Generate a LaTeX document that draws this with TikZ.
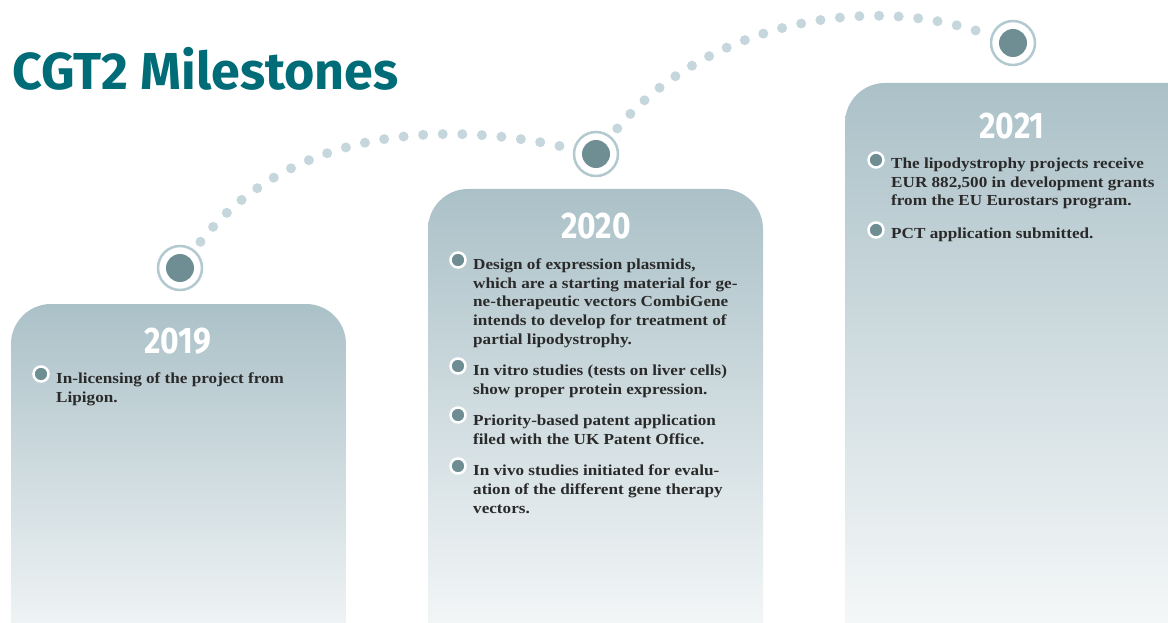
\documentclass[tikz,border=0pt]{standalone}
\usepackage{fontspec}
\setmainfont{Liberation Serif}
\newfontfamily\headfont{Fira Sans}
\newfontfamily\yearfont[FakeStretch=0.86]{Fira Sans}
\newfontfamily\itemfont[FakeStretch=1.12]{Liberation Serif}
\definecolor{titlec}{HTML}{006C77}
\definecolor{boxtop}{HTML}{ABC1C8}
\definecolor{ringc}{HTML}{B3C9D0}
\definecolor{dotdark}{HTML}{6F8E93}
\definecolor{dotlight}{HTML}{C5D6DC}
\definecolor{textdark}{HTML}{2A2A2A}
% lines of one item, first baseline on the node's base
\newcommand{\itemlines}[1]{\begin{tabular}[t]{@{}l@{}}#1\end{tabular}}
\tikzset{
  yearbox/.style={rounded corners=40pt, top color=boxtop, bottom color=white, draw=none},
  yeartext/.style={font=\yearfont\bfseries\fontsize{37}{37}\selectfont, text=white, anchor=base},
  milestone/.style={circle, draw=ringc, line width=2.5pt, minimum size=44pt, inner sep=0pt,
    path picture={\fill[dotdark] (path picture bounding box.center) circle (14pt);}},
  bulletdot/.style={circle, fill=dotdark, draw=white, line width=2.5pt, minimum size=15pt, inner sep=0pt},
  itemtext/.style={anchor=base west, inner sep=0pt, text=textdark,
    font=\itemfont\bfseries\fontsize{15.3}{19}\selectfont},
  dotline/.style={draw=dotlight, line width=10pt, line cap=round, dash pattern=on 0pt off 19.6pt,
    shorten <=10pt, shorten >=8pt}
}
\begin{document}
\begin{tikzpicture}[x=1pt,y=-1pt]
\useasboundingbox (0,0) rectangle (1168,623);
\clip (0,0) rectangle (1168,623);

% title
\node[anchor=base west, inner sep=0pt, font=\headfont\bfseries\fontsize{52}{52}\selectfont, text=titlec]
  (title) at (12,90) {CGT2 Milestones};

% year panels
\shade[yearbox] (11,304) rectangle (346,700);
\shade[yearbox] (428,189) rectangle (763,700);
\shade[yearbox] (845,83) rectangle (1210,700);

% milestone markers
\node[milestone] (m1) at (180,268) {};
\node[milestone] (m2) at (596,154) {};
\node[milestone] (m3) at (1013,43) {};

% dotted trail between milestones
\draw[dotline] (m1) .. controls (280,140) and (420,115) .. (m2);
\draw[dotline] (m2) .. controls (695,35) and (850,-12) .. (m3);

% years
\node[yeartext] (y2019) at (178,353) {2019};
\node[yeartext] (y2020) at (596,238) {2020};
\node[yeartext] (y2021) at (1012,139) {2021};

% 2019
\node[bulletdot] (b1a) at (41,374) {};
\node[itemtext] (t1a) at (56,383) {\itemlines{In-licensing of the project from\\Lipigon.}};

% 2020
\node[bulletdot] (b2a) at (458,260) {};
\node[itemtext] (t2a) at (473,269) {\itemlines{Design of expression plasmids,\\which are a starting material for ge-\\ne-therapeutic vectors CombiGene\\intends to develop for treatment of\\partial lipodystrophy.}};
\node[bulletdot] (b2b) at (458,366) {};
\node[itemtext] (t2b) at (473,375) {\itemlines{In vitro studies (tests on liver cells)\\show proper protein expression.}};
\node[bulletdot] (b2c) at (458,415) {};
\node[itemtext] (t2c) at (473,425) {\itemlines{Priority-based patent application\\filed with the UK Patent Office.}};
\node[bulletdot] (b2d) at (458,466) {};
\node[itemtext] (t2d) at (473,475) {\itemlines{In vivo studies initiated for evalu-\\ation of the different gene therapy\\vectors.}};

% 2021
\node[bulletdot] (b3a) at (876,160) {};
\node[itemtext] (t3a) at (891,168) {\itemlines{The lipodystrophy projects receive\\EUR 882,500 in development grants\\from the EU Eurostars program.}};
\node[bulletdot] (b3b) at (876,230) {};
\node[itemtext] (t3b) at (891,238) {\itemlines{PCT application submitted.}};
\end{tikzpicture}
\end{document}
